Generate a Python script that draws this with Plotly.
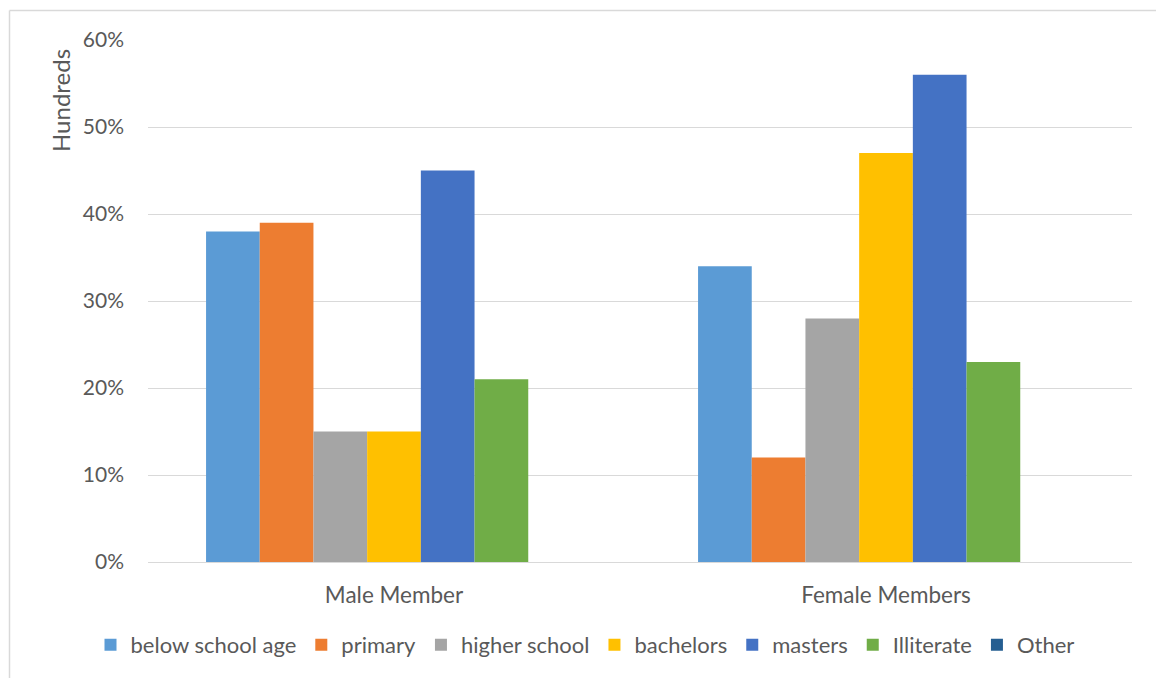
import plotly.graph_objects as go

groups = ["Male Member", "Female Members"]
series_names = ["below school age", "primary", "higher school", "bachelors",
                "masters", "Illiterate", "Other"]
below_school_age = [0.38, 0.34]
primary = [0.39, 0.12]
higher_school = [0.15, 0.28]
bachelors = [0.15, 0.47]
masters = [0.45, 0.56]
illiterate = [0.21, 0.23]
other = [0.0, 0.0]
y_ticks = [0, 0.1, 0.2, 0.3, 0.4, 0.5, 0.6]
y_tick_labels = ["0%", "10%", "20%", "30%", "40%", "50%", "60%"]

colors = ["#5B9BD5", "#ED7D31", "#A5A5A5", "#FFC000", "#4472C4", "#70AD47", "#255E91"]
values = [below_school_age, primary, higher_school, bachelors, masters, illiterate, other]

W, H = 1156, 678
L, R, T, B = 148, 24, 40, 116
pw, ph = W - L - R, H - T - B

fig = go.Figure()
for name, vals, col in zip(series_names, values, colors):
    fig.add_trace(go.Bar(x=groups, y=vals, name=name, marker=dict(color=col, line=dict(width=0))))

def px_x(x):
    return (x - L) / pw

def px_y(y):
    return (H - B - y) / ph

font = "Lato, 'Open Sans', sans-serif"
fig.update_layout(
    width=W, height=H,
    margin=dict(l=L, r=R, t=T, b=B),
    paper_bgcolor="white", plot_bgcolor="white",
    barmode="group", bargap=0.236, bargroupgap=0,
    font=dict(family=font, color="#595959", size=21),
    showlegend=True,
    legend=dict(orientation="h", x=px_x(585), xanchor="center", y=px_y(645), yanchor="middle",
                font=dict(size=22, color="#595959"), itemwidth=30, traceorder="normal",
                bgcolor="rgba(0,0,0,0)"),
    xaxis=dict(showgrid=False, showline=True, linecolor="#D9D9D9", linewidth=1,
               ticks="", tickfont=dict(size=22.5, color="#595959"), ticklabelstandoff=13,
               fixedrange=True),
    yaxis=dict(range=[0, 0.6], tickvals=y_ticks, ticktext=y_tick_labels,
               showgrid=True, gridcolor="#D9D9D9", gridwidth=1, zeroline=False,
               showline=False, ticks="", tickfont=dict(size=21, color="#595959"),
               ticklabelstandoff=23),
    annotations=[dict(text="Hundreds", textangle=-90, x=px_x(60), y=px_y(101),
                      xref="paper", yref="paper", showarrow=False,
                      font=dict(size=24, color="#595959"),
                      xanchor="center", yanchor="middle")],
    shapes=[
        dict(type="line", xref="paper", yref="paper", x0=px_x(9.5), x1=px_x(1170),
             y0=px_y(10.5), y1=px_y(10.5), line=dict(color="#D9D9D9", width=1.5)),
        dict(type="line", xref="paper", yref="paper", x0=px_x(9.5), x1=px_x(9.5),
             y0=px_y(10.5), y1=px_y(700), line=dict(color="#D9D9D9", width=1.5)),
    ],
)

fig.write_html("out.html")
